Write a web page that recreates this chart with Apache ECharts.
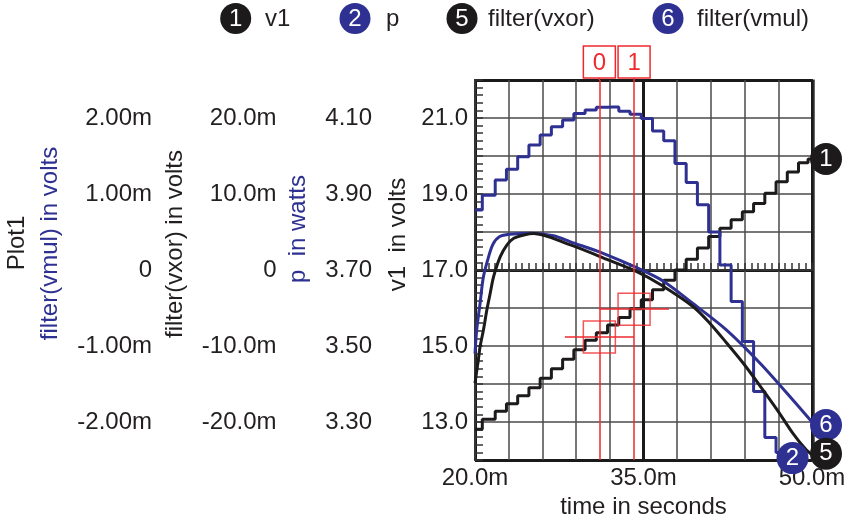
<!DOCTYPE html>
<html><head><meta charset="utf-8">
<script src="https://cdn.jsdelivr.net/npm/echarts@6/dist/echarts.min.js"></script>
<style>html,body{margin:0;padding:0;background:#fff}#c{width:854px;height:520px}</style>
</head><body><div id="c"></div>
<script>
// ---------- data ----------
const v1Times  = [20, 21.3, 22.3, 23.3, 24.3, 25.3, 26.3, 27.3, 28.3, 29.3, 30.3, 31.3, 32.3, 33.3, 34.3, 35.3, 36.3, 37.3, 38.3, 39.3, 40.3, 41.3, 42.3, 43.3, 44.3, 45.3, 46.3, 47.3, 48.3, 49.3, 50];
const v1Values = [12.81, 13.07, 13.28, 13.48, 13.69, 13.90, 14.15, 14.40, 14.65, 14.90, 15.15, 15.35, 15.55, 15.75, 15.98, 16.22, 16.48, 16.73, 17.00, 17.28, 17.58, 17.88, 18.10, 18.32, 18.53, 18.75, 19.02, 19.32, 19.58, 19.82, 19.92];

const pTimes  = [20, 21.3, 22.3, 23.3, 24.3, 25.3, 26.3, 27.3, 28.3, 29.3, 30.3, 31.3, 32.3, 33.3, 34.3, 35.3, 36.3, 37.3, 38.3, 39.3, 40.3, 41.3, 42.3, 43.3, 44.3, 45.3, 46.3, 47.3, 48];
const pValues = [3.858, 3.897, 3.937, 3.965, 3.998, 4.029, 4.055, 4.077, 4.095, 4.112, 4.121, 4.128, 4.129, 4.118, 4.110, 4.099, 4.066, 4.040, 3.980, 3.930, 3.872, 3.800, 3.713, 3.617, 3.512, 3.380, 3.259, 3.220, 3.205];

const vxorTimes  = [20, 20.3, 20.45, 20.75, 21.05, 21.35, 21.65, 22.25, 22.85, 23.45, 24.35, 25.2, 28.5, 31.4, 34.4, 36.5, 39.4, 40.9, 42.4, 43.9, 45.4, 46.9, 48.3, 49.5, 50];
const vxorValues = [-14.9, -11.8, -10.1, -7.9, -5.3, -3.1, -0.9, 1.75, 3.3, 4.17, 4.6, 4.8, 3.3, 1.6, -0.2, -1.9, -4.8, -7.0, -9.6, -12.3, -15.3, -18.4, -21.5, -23.7, -24.3];

const vmulTimes  = [20, 20.15, 20.45, 20.75, 21.2, 21.6, 22.2, 23.1, 25.0, 27.0, 28.5, 31.4, 34.4, 36.8, 39.4, 42.4, 45.4, 48.3, 50];
const vmulValues = [-1.10, -0.79, -0.44, -0.09, 0.17, 0.34, 0.44, 0.47, 0.485, 0.45, 0.37, 0.22, 0.03, -0.15, -0.44, -0.79, -1.23, -1.71, -2.00];

const legendNums  = ['1', '2', '5', '6'];
const legendNames = ['v1', 'p', 'filter(vxor)', 'filter(vmul)'];

const cursorTimes  = [31.07, 34.16];
const cursorLabels = ['0', '1'];
const cursorV1     = [15.24, 15.97];
const cursorHStart = [28.0, 31.07];
const cursorHEnd   = [34.16, 37.27];

const xTickLabels = ['20.0m', '35.0m', '50.0m'];

// ---------- styles ----------
const BLACK = '#1c1a1b', BLUE = '#2e3192', TXT = '#231f20', RED = '#ee2a2e', GRID = '#4a4a4a';
const FONT = '"Liberation Sans", Arial, sans-serif';
const FS = 24;

function pairs(ts, vs) { return ts.map((t, i) => [t, vs[i]]); }
function withEndMarker(data, label, color, offset) {
  const last = data[data.length - 1];
  data[data.length - 1] = {
    value: last, symbol: 'circle', symbolSize: 32, symbolOffset: offset,
    itemStyle: { color: color, opacity: 1 },
    label: { show: true, position: 'inside', formatter: label, color: '#fff', fontSize: FS, fontFamily: FONT }
  };
  return data;
}

const chart = echarts.init(document.getElementById('c'), null, { renderer: 'canvas' });

const labelStyle = { color: TXT, fontSize: FS, fontFamily: FONT };

const option = {
  animation: false,
  backgroundColor: '#fff',
  grid: { left: 475, top: 80, width: 337, height: 380, show: true, borderColor: '#333', borderWidth: 2,
          backgroundColor: 'transparent', containLabel: false, outerBoundsMode: 'none' },
  xAxis: [
    {
      type: 'value', min: 20, max: 50, interval: 3,
      axisLine: { show: true, lineStyle: { color: '#333', width: 2 } },
      axisTick: { show: true, inside: true, length: 7, lineStyle: { color: '#333', width: 1.5 } },
      minorTick: { show: true, splitNumber: 5, length: 7, lineStyle: { color: '#333', width: 1.5 } },
      splitLine: { show: true, lineStyle: { color: GRID, width: 1.5 } },
      axisLabel: Object.assign({ margin: 6, formatter: function (v) {
        const k = Math.round((v - 20) / 15);
        return Math.abs(v - 20 - k * 15) < 1e-6 ? xTickLabels[k] : '';
      } }, labelStyle),
      name: 'time in seconds', nameLocation: 'middle', nameGap: 35,
      nameTextStyle: { color: TXT, fontSize: FS, fontFamily: FONT }
    },
    {
      type: 'value', min: 20, max: 50, interval: 15, position: 'bottom',
      axisLine: { show: false }, axisTick: { show: false }, axisLabel: { show: false },
      splitLine: { show: true, lineStyle: { color: '#1a1a1a', width: 3 } }
    }
  ],
  yAxis: [
    { // v1
      type: 'value', min: 12, max: 22, interval: 1, position: 'left', offset: 0,
      axisLine: { show: true, lineStyle: { color: '#333', width: 2 } },
      axisTick: { show: true, inside: true, length: 8, lineStyle: { color: '#333', width: 1.5 } },
      minorTick: { show: true, splitNumber: 5, length: 8, lineStyle: { color: '#333', width: 1.5 } },
      splitLine: { show: true, lineStyle: { color: GRID, width: 1.5 } },
      axisLabel: Object.assign({ margin: 7, formatter: function (v) {
        const k = Math.round(v); return (k % 2 === 1 && k > 12 && k < 22) ? v.toFixed(1) : '';
      } }, labelStyle)
    },
    { // p
      type: 'value', min: 3.2, max: 4.2, interval: 0.1, position: 'left', offset: 96,
      axisLine: { show: false }, axisTick: { show: false }, splitLine: { show: false },
      axisLabel: Object.assign({ margin: 7, formatter: function (v) {
        const k = Math.round(v * 10); return (k % 2 === 1 && k > 32 && k < 42) ? v.toFixed(2) : '';
      } }, labelStyle)
    },
    { // filter(vxor)
      type: 'value', min: -25, max: 25, interval: 5, position: 'left', offset: 191.5,
      axisLine: { show: false }, axisTick: { show: false }, splitLine: { show: false },
      axisLabel: Object.assign({ margin: 7, formatter: function (v) {
        const k = Math.round(v); if (k % 10 !== 0 || Math.abs(k) > 20) return '';
        return k === 0 ? '0' : k.toFixed(1) + 'm';
      } }, labelStyle)
    },
    { // filter(vmul)
      type: 'value', min: -2.5, max: 2.5, interval: 0.5, position: 'left', offset: 316,
      axisLine: { show: false }, axisTick: { show: false }, splitLine: { show: false },
      axisLabel: Object.assign({ margin: 7, formatter: function (v) {
        if (Math.abs(v - Math.round(v)) > 1e-6 || Math.abs(v) > 2.01) return '';
        const k = Math.round(v); return k === 0 ? '0' : k.toFixed(2) + 'm';
      } }, labelStyle)
    },
    { // thick centre line
      type: 'value', min: 12, max: 22, interval: 5, position: 'left',
      axisLine: { show: false }, axisTick: { show: false }, axisLabel: { show: false },
      splitLine: { show: true, lineStyle: { color: '#1a1a1a', width: 3 } }
    },
    { // doubled right border
      type: 'value', min: 12, max: 22, position: 'right', offset: 2,
      axisLine: { show: true, lineStyle: { color: '#333', width: 1.5 } },
      axisTick: { show: false }, axisLabel: { show: false }, splitLine: { show: false }
    }
  ],
  series: [
    {
      name: 'v1', type: 'line', xAxisIndex: 0, yAxisIndex: 0, step: 'middle',
      data: withEndMarker(pairs(v1Times, v1Values), '1', BLACK, [14, 0]),
      symbol: 'none', showSymbol: true, lineStyle: { color: BLACK, width: 3 }, itemStyle: { color: BLACK }
    },
    {
      name: 'p', type: 'line', xAxisIndex: 0, yAxisIndex: 1, step: 'middle',
      data: withEndMarker(pairs(pTimes, pValues), '2', BLUE, [3, 0]),
      symbol: 'none', showSymbol: true, lineStyle: { color: BLUE, width: 3 }, itemStyle: { color: BLUE }
    },
    {
      name: 'filter(vmul)', type: 'line', xAxisIndex: 0, yAxisIndex: 3, smooth: 0.3,
      data: withEndMarker(pairs(vmulTimes, vmulValues), '6', BLUE, [14, 3]),
      symbol: 'none', showSymbol: true, lineStyle: { color: BLUE, width: 3 }, itemStyle: { color: BLUE }
    },
    {
      name: 'filter(vxor)', type: 'line', xAxisIndex: 0, yAxisIndex: 2, smooth: 0.3,
      data: withEndMarker(pairs(vxorTimes, vxorValues), '5', BLACK, [14, -1]),
      symbol: 'none', showSymbol: true, lineStyle: { color: BLACK, width: 3 }, itemStyle: { color: BLACK }
    },
    {
      name: 'cursors', type: 'scatter', xAxisIndex: 0, yAxisIndex: 0,
      data: pairs(cursorTimes, cursorV1),
      symbol: 'rect', symbolSize: 32,
      itemStyle: { color: 'rgba(0,0,0,0)', borderColor: RED, borderWidth: 1.5 },
      silent: true, z: 5,
      markLine: {
        silent: true, symbol: ['none', 'none'], label: { show: false },
        lineStyle: { color: RED, type: 'solid', width: 1.5 },
        data: cursorTimes.map(t => ({ xAxis: t })).concat(
          cursorTimes.map((t, i) => [{ coord: [cursorHStart[i], cursorV1[i]] }, { coord: [cursorHEnd[i], cursorV1[i]] }])
        )
      }
    }
  ]
};
chart.setOption(option);

// ---------- graphic: legend, axis titles, cursor tags ----------
const g = [];
const legendCircleX = [235.7, 355, 462, 668];
const legendTextX   = [265, 386, 488, 697];
const legendColors  = [BLACK, BLUE, BLACK, BLUE];
legendNums.forEach((n, i) => {
  g.push({ type: 'circle', shape: { cx: legendCircleX[i], cy: 18.5, r: 15.5 }, style: { fill: legendColors[i] } });
  g.push({ type: 'text', x: legendCircleX[i], y: 19, style: { text: n, fill: '#fff', font: FS + 'px ' + FONT, textAlign: 'center', textVerticalAlign: 'middle' } });
  g.push({ type: 'text', x: legendTextX[i], y: 19, style: { text: legendNames[i], fill: TXT, font: FS + 'px ' + FONT, textAlign: 'left', textVerticalAlign: 'middle' } });
});
const titles = [
  ['Plot1', 17, 243, TXT],
  ['filter(vmul) in volts', 50, 243.5, BLUE],
  ['filter(vxor) in volts', 175, 244, TXT],
  ['p  in watts', 298, 229, BLUE],
  ['v1  in volts', 398, 234.5, TXT]
];
titles.forEach(t => {
  g.push({ type: 'text', x: t[1], y: t[2], rotation: Math.PI / 2,
    style: { text: t[0], fill: t[3], font: FS + 'px ' + FONT, textAlign: 'center', textVerticalAlign: 'middle' } });
});
cursorTimes.forEach((t, i) => {
  const px = chart.convertToPixel({ xAxisIndex: 0 }, t);
  g.push({ type: 'rect', shape: { x: px - 16, y: 46, width: 32, height: 32 }, style: { fill: '#fff', stroke: RED, lineWidth: 1.5 } });
  g.push({ type: 'line', shape: { x1: px, y1: 78, x2: px, y2: 80 }, style: { stroke: RED, lineWidth: 1.5 } });
  g.push({ type: 'text', x: px, y: 63, style: { text: cursorLabels[i], fill: RED, font: FS + 'px ' + FONT, textAlign: 'center', textVerticalAlign: 'middle' } });
});
chart.setOption({ graphic: g });
</script></body></html>
